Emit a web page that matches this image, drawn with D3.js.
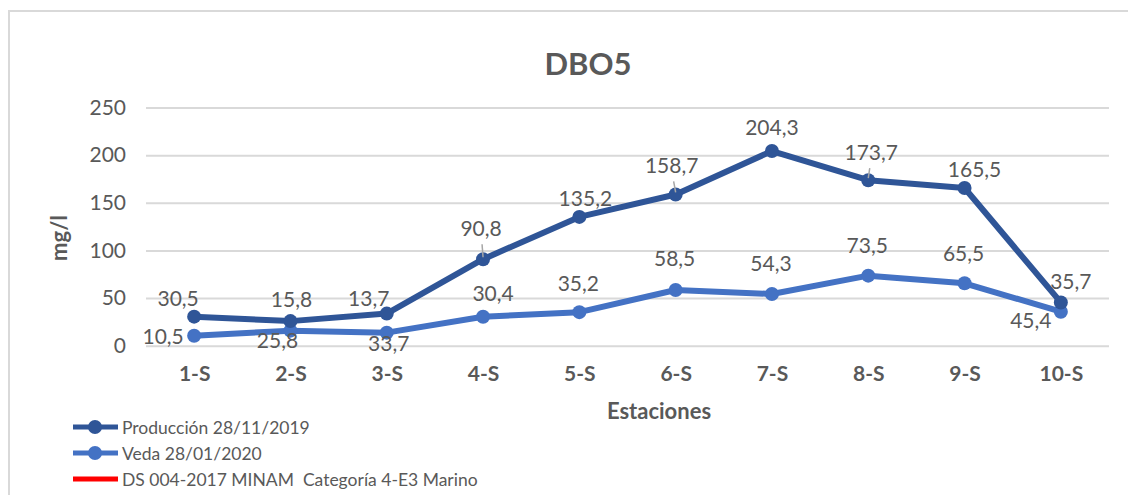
<!DOCTYPE html>
<html>
<head>
<meta charset="utf-8">
<script src="https://cdn.jsdelivr.net/npm/d3@7"></script>
<style>
  body { margin: 0; background: #fff; }
  text { font-family: Lato, "Open Sans", sans-serif; fill: #595959; }
</style>
</head>
<body>
<div id="chart"></div>
<script>
// ------------ data
var stations = ["1-S", "2-S", "3-S", "4-S", "5-S", "6-S", "7-S", "8-S", "9-S", "10-S"];
var produccion = [30.5, 25.8, 33.7, 90.8, 135.2, 158.7, 204.3, 173.7, 165.5, 45.4];
var veda = [10.5, 15.8, 13.7, 30.4, 35.2, 58.5, 54.3, 73.5, 65.5, 35.7];
// labels as printed in the chart (some are swapped between series in the original)
var produccionLabels = ["30,5", "15,8", "13,7", "90,8", "135,2", "158,7", "204,3", "173,7", "165,5", "35,7"];
var vedaLabels = ["10,5", "25,8", "33,7", "30,4", "35,2", "58,5", "54,3", "73,5", "65,5", "45,4"];
var yTicks = [0, 50, 100, 150, 200, 250];
var legendNames = ["Producción 28/11/2019", "Veda 28/01/2020", "DS 004-2017 MINAM  Categoría 4-E3 Marino"];

// ------------ label placement relative to each point (dx, dy), leader line flag
var prodLabelPos = [[-16,-19],[1,-23],[-18,-16],[-2,-32],[6,-19],[-4,-30],[0,-25],[3,-29],[10,-20],[10,-22]];
var prodLeader = [0,0,0,1,0,1,0,1,0,0];
var vedaLabelPos = [[-31,0],[-13,9],[2,10],[10,-24],[-1,-30],[-1,-32],[-1,-31],[-1,-31],[-1,-31],[-30,8]];

var svgWidth = 1128, svgHeight = 495;
var colProd = "#2f5597", colVeda = "#4472c4", colRed = "#ff0000";

var svg = d3.select("#chart").append("svg")
  .attr("width", svgWidth)
  .attr("height", svgHeight);

// chart area border (runs past the photographed window)
svg.append("rect")
  .attr("x", 9).attr("y", 11)
  .attr("width", 1200).attr("height", 600)
  .attr("fill", "none")
  .attr("stroke", "#d9d9d9")
  .attr("stroke-width", 2);

var xScale = d3.scalePoint()
  .domain(stations)
  .range([146, 1109])
  .padding(0.5);

var yScale = d3.scaleLinear()
  .domain([0, 250])
  .range([345.7, 107.5]);

// gridlines + y tick labels
var yAxis = svg.append("g")
  .attr("transform", "translate(146,0)")
  .call(d3.axisLeft(yScale).tickValues(yTicks).tickSize(-963).tickPadding(20));
yAxis.select(".domain").remove();
yAxis.selectAll("line").attr("stroke", "#d9d9d9").attr("stroke-width", 2);
yAxis.selectAll("text")
  .style("font-size", "21px")
  .style("font-family", "Lato, sans-serif")
  .attr("fill", "#595959");

// x tick labels
var xAxis = svg.append("g")
  .attr("transform", "translate(0,346)")
  .call(d3.axisBottom(xScale).tickSize(0).tickPadding(20));
xAxis.select(".domain").remove();
xAxis.selectAll("text")
  .style("font-size", "21px")
  .style("font-weight", "bold")
  .style("font-family", "Lato, sans-serif")
  .attr("fill", "#595959");

// title + axis titles
svg.append("text")
  .attr("x", 588).attr("y", 63)
  .attr("text-anchor", "middle")
  .attr("dominant-baseline", "central")
  .style("font-size", "31px")
  .style("font-weight", "bold")
  .text("DBO5");

svg.append("text")
  .attr("x", 659).attr("y", 410)
  .attr("text-anchor", "middle")
  .attr("dominant-baseline", "central")
  .style("font-size", "22px")
  .style("font-weight", "bold")
  .text("Estaciones");

svg.append("text")
  .attr("transform", "translate(58,238) rotate(-90)")
  .attr("text-anchor", "middle")
  .attr("dominant-baseline", "central")
  .style("font-size", "22px")
  .style("font-weight", "bold")
  .text("mg/l");

// ------------ series
var line = d3.line()
  .x(function(d, i){ return xScale(stations[i]); })
  .y(function(d){ return yScale(d); });

function drawSeries(values, labelPos, leader, color){
  var g = svg.append("g");

  g.append("path")
    .datum(values)
    .attr("d", line)
    .attr("fill", "none")
    .attr("stroke", color)
    .attr("stroke-width", 6)
    .attr("stroke-linejoin", "round");

  g.selectAll("circle")
    .data(values)
    .enter()
    .append("circle")
    .attr("cx", function(d, i){ return xScale(stations[i]); })
    .attr("cy", function(d){ return yScale(d); })
    .attr("r", 7)
    .attr("fill", color);

  // leader lines from moved labels, drawn over the markers like Excel does
  if (leader) {
    var leaderData = values
      .map(function(v, i){ return {v: v, i: i}; })
      .filter(function(d){ return leader[d.i]; });
    g.selectAll("line.leader")
      .data(leaderData)
      .enter()
      .append("line")
      .attr("class", "leader")
      .attr("x1", function(d){ return xScale(stations[d.i]) + labelPos[d.i][0] * 0.5; })
      .attr("y1", function(d){ return yScale(d.v) + labelPos[d.i][1] + 17; })
      .attr("x2", function(d){ return xScale(stations[d.i]); })
      .attr("y2", function(d){ return yScale(d.v) - 2; })
      .attr("stroke", "#a6a6a6")
      .attr("stroke-width", 1.5);
  }
  return g;
}

drawSeries(veda, vedaLabelPos, null, colVeda);
drawSeries(produccion, prodLabelPos, prodLeader, colProd);

// ------------ data labels (drawn on top)
function drawLabels(values, labels, labelPos){
  svg.append("g").selectAll("text")
    .data(values)
    .enter()
    .append("text")
    .attr("x", function(d, i){ return xScale(stations[i]) + labelPos[i][0]; })
    .attr("y", function(d, i){ return yScale(d) + labelPos[i][1]; })
    .attr("text-anchor", "middle")
    .attr("dominant-baseline", "central")
    .style("font-size", "21px")
    .text(function(d, i){ return labels[i]; });
}
drawLabels(produccion, produccionLabels, prodLabelPos);
drawLabels(veda, vedaLabels, vedaLabelPos);

// ------------ legend
var legendColors = [colProd, colVeda, colRed];
var legend = svg.append("g");
legendNames.forEach(function(name, i){
  var y = 427 + i * 26;
  legend.append("line")
    .attr("x1", 73).attr("x2", 118)
    .attr("y1", y).attr("y2", y)
    .attr("stroke", legendColors[i])
    .attr("stroke-width", 5);
  if (i < 2) {
    legend.append("circle")
      .attr("cx", 95).attr("cy", y)
      .attr("r", 7)
      .attr("fill", legendColors[i]);
  }
  legend.append("text")
    .attr("x", 122).attr("y", y)
    .attr("dominant-baseline", "central")
    .style("font-size", "17.5px")
    .style("white-space", "pre")
    .text(name);
});
</script>
</body>
</html>
